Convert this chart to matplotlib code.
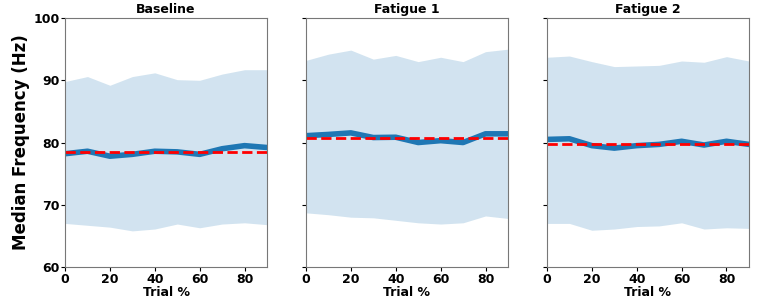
import matplotlib
matplotlib.use("Agg")
import matplotlib.pyplot as plt

trial = [0, 10, 20, 30, 40, 50, 60, 70, 80, 90]
titles = ["Baseline", "Fatigue 1", "Fatigue 2"]

median_baseline = [78.2, 78.6, 77.8, 78.1, 78.6, 78.5, 78.1, 79.0, 79.5, 79.2]
upper_baseline = [89.8, 90.6, 89.2, 90.6, 91.2, 90.1, 90.0, 91.0, 91.7, 91.7]
lower_baseline = [67.0, 66.7, 66.4, 65.8, 66.1, 66.9, 66.3, 66.9, 67.1, 66.8]
mean_baseline = 78.5

median_fat1 = [81.1, 81.3, 81.55, 80.8, 80.85, 80.0, 80.3, 80.0, 81.4, 81.4]
upper_fat1 = [93.2, 94.2, 94.85, 93.4, 94.0, 93.0, 93.7, 93.0, 94.6, 95.0]
lower_fat1 = [68.7, 68.4, 68.0, 67.9, 67.5, 67.1, 66.9, 67.1, 68.2, 67.8]
mean_fat1 = 80.75

median_fat2 = [80.5, 80.6, 79.5, 79.1, 79.5, 79.7, 80.2, 79.6, 80.2, 79.7]
upper_fat2 = [93.7, 93.9, 93.0, 92.2, 92.3, 92.4, 93.1, 92.9, 93.8, 93.1]
lower_fat2 = [67.0, 67.0, 65.9, 66.1, 66.5, 66.6, 67.1, 66.1, 66.3, 66.2]
mean_fat2 = 79.7

medians = [median_baseline, median_fat1, median_fat2]
uppers = [upper_baseline, upper_fat1, upper_fat2]
lowers = [lower_baseline, lower_fat1, lower_fat2]
means = [mean_baseline, mean_fat1, mean_fat2]

plt.rcParams['font.weight'] = 'bold'
fig = plt.figure(figsize=(7.65, 3.01), dpi=100)
lefts = [0.085, 0.4, 0.715]

for i in range(3):
    ax = fig.add_axes([lefts[i], 0.113, 0.264, 0.827])
    ax.fill_between(trial, lowers[i], uppers[i], color='tab:blue', alpha=0.2, linewidth=0)
    ax.plot(trial, medians[i], color='tab:blue', linewidth=4)
    ax.axhline(means[i], color='red', linestyle='--', linewidth=2)
    ax.set_xlim(0, 90)
    ax.set_ylim(60, 100)
    ax.set_xticks([0, 20, 40, 60, 80])
    ax.set_yticks([60, 70, 80, 90, 100])
    ax.set_title(titles[i], fontsize=9, fontweight='bold', pad=4)
    ax.set_xlabel('Trial %', fontsize=9, fontweight='bold', labelpad=0)
    ax.tick_params(labelsize=9, length=3, pad=1)
    for s in ax.spines.values():
        s.set_color('#777777')
    if i == 0:
        ax.set_ylabel('Median Frequency (Hz)', fontsize=12, fontweight='bold', labelpad=2)
    else:
        ax.set_yticklabels([])

fig.savefig('out.png', dpi=100)
